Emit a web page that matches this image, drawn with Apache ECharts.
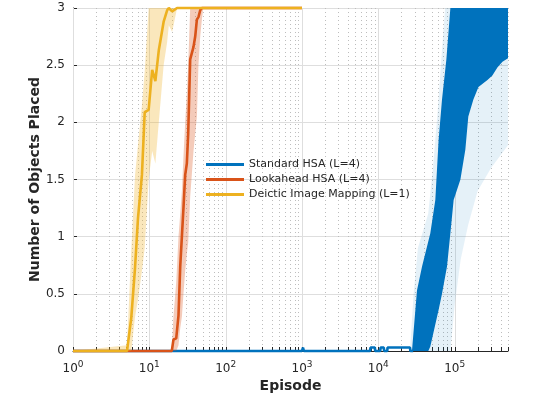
<!DOCTYPE html>
<html>
<head>
<meta charset="utf-8">
<script src="https://cdn.jsdelivr.net/npm/echarts@6/dist/echarts.min.js"></script>
<style>
  html, body { margin: 0; padding: 0; background: #fff; }
  #chart { width: 560px; height: 397px; }
</style>
</head>
<body>
<div id="chart"></div>
<script>
// x ticks (episode, log scale)
const majorTicks = [1, 10, 100, 1000, 10000, 100000]
const minorTicks = [2, 3, 4, 5, 6, 7, 8, 9,
  20, 30, 40, 50, 60, 70, 80, 90,
  200, 300, 400, 500, 600, 700, 800, 900,
  2000, 3000, 4000, 5000, 6000, 7000, 8000, 9000,
  20000, 30000, 40000, 50000, 60000, 70000, 80000, 90000,
  200000, 300000, 400000, 500000]

// Deictic Image Mapping (L=1)
const yellowX = [1, 5.1, 5.8, 6.5, 7.1, 8, 8.7, 9.8, 10.9, 12, 13.3, 15.4, 17.1, 18, 19.9, 23.1, 1000]
const yellowY = [0, 0, 0.29, 0.73, 1.16, 1.54, 2.09, 2.11, 2.46, 2.36, 2.63, 2.88, 2.98, 3, 2.97, 3, 3]
const yellowHi = [0, 0.05, 0.88, 1.54, 1.8, 2.15, 2.45, 3, 3, 3, 3, 3, 3, 3, 3, 3, 3]
const yellowLo = [0, 0, 0, 0.3, 0.45, 0.7, 0.9, 1.5, 1.75, 1.64, 2.0, 2.5, 2.7, 2.85, 2.79, 3, 3]

// Lookahead HSA (L=4)
const orangeX = [1, 19.7, 20.7, 22.5, 24.1, 25.4, 26.7, 28, 29.5, 31, 32.3, 34.3, 36.1, 37.9, 39.9, 42, 44, 46.4, 48.8, 51, 1000]
const orangeY = [0, 0, 0.10, 0.11, 0.31, 0.74, 0.74, 1.25, 1.54, 1.64, 1.9, 2.55, 2.56, 2.66, 2.75, 2.9, 2.92, 2.98, 3, 3, 3]
const orangeHi = [0, 0, 0.3, 0.6, 1.0, 1.2, 1.4, 1.7, 2.0, 2.25, 2.5, 3, 3, 3, 3, 3, 3, 3, 3, 3, 3]
const orangeLo = [0, 0, 0, 0, 0.05, 0.2, 0.3, 0.5, 0.7, 0.85, 0.95, 1.35, 1.55, 1.75, 1.9, 2.05, 2.5, 2.75, 2.9, 3, 3]

// Standard HSA (L=4): flat part, then the noisy band (edges)
const blueX = [1, 1000, 1030, 1060, 7800, 7900, 9000, 9100, 10600, 10700, 11800, 11900, 13100, 13200, 26000, 26300, 28600]
const blueY = [0, 0, 0.03, 0, 0, 0.03, 0.03, 0, 0, 0.03, 0.03, 0, 0, 0.03, 0.03, 0, 0]
const blueTopX = [27600, 32100, 37400, 48000, 55800, 61700, 68300, 77900, 87900, 500000]
const blueTopY = [0, 0.53, 0.74, 1.03, 1.32, 1.85, 2.2, 2.55, 3, 3]
const blueBotX = [45200, 48000, 61700, 68300, 79400, 87900, 97000, 119000, 138000, 151000, 176000, 205000, 269000, 312000, 363000, 423000, 500000]
const blueBotY = [0, 0.04, 0.36, 0.5, 0.74, 1.03, 1.32, 1.5, 1.76, 2.05, 2.2, 2.31, 2.37, 2.41, 2.48, 2.53, 2.56]
const blueShadeTopX = [26000, 29000, 33000, 45000, 52000, 60000, 66000, 75000, 500000]
const blueShadeTopY = [0, 0.5, 0.9, 1.2, 1.6, 2.1, 2.5, 3, 3]
const blueShadeBotX = [45000, 88000, 100000, 120000, 150000, 200000, 300000, 500000]
const blueShadeBotY = [0, 0, 0.4, 0.8, 1.1, 1.4, 1.6, 1.8]

const FONT = 'DejaVu Sans'
const INK = '#262626'

const pairs = (xs, ys) => xs.map((x, i) => [x, ys[i]])

function band (hiX, hiY, loX, loY, fill, z) {
  return {
    type: 'custom', silent: true, z,
    data: [[hiX[0], hiY[0]]],
    renderItem (params, api) {
      const top = hiX.map((x, i) => api.coord([x, hiY[i]]))
      const bot = loX.map((x, i) => api.coord([x, loY[i]])).reverse()
      return { type: 'polygon', shape: { points: top.concat(bot) }, style: { fill } }
    }
  }
}

function vGrid (ticks, color, dash, z) {
  return {
    type: 'custom', silent: true, z,
    data: ticks.map(v => [v, 0]),
    renderItem (params, api) {
      const a = api.coord([api.value(0), 0])
      const b = api.coord([api.value(0), 3])
      const x = Math.round(a[0]) + 0.5
      return {
        type: 'group',
        children: [
          { type: 'line', shape: { x1: x, y1: b[1], x2: x, y2: a[1] }, style: { stroke: color, lineWidth: 1, lineDash: dash } },
          { type: 'line', shape: { x1: x, y1: a[1], x2: x, y2: a[1] - 4 }, style: { stroke: INK, lineWidth: 1 } }
        ]
      }
    }
  }
}

function lineSeries (name, xs, ys, color, z) {
  return {
    name, type: 'line', z, clip: false,
    data: pairs(xs, ys),
    showSymbol: false, symbol: 'none',
    lineStyle: { color, width: 2.6 },
    itemStyle: { color }
  }
}

const chart = echarts.init(document.getElementById('chart'), null, { renderer: 'canvas' })
chart.setOption({
  animation: false,
  backgroundColor: '#fff',
  textStyle: { fontFamily: FONT },
  grid: { left: 73, top: 8, width: 435, height: 343, containLabel: false, outerBoundsMode: 'none' },
  legend: {
    orient: 'vertical', left: 201, top: 152,
    icon: 'rect', itemWidth: 38, itemHeight: 3, itemGap: 0,
    textStyle: { fontFamily: FONT, fontSize: 11, color: INK, lineHeight: 15 },
    data: ['Standard HSA (L=4)', 'Lookahead HSA (L=4)', 'Deictic Image Mapping (L=1)']
  },
  xAxis: {
    type: 'log', logBase: 10, min: 1, max: 500000,
    name: 'Episode', nameLocation: 'middle', nameGap: 28, nameMoveOverlap: false,
    nameTextStyle: { fontFamily: FONT, fontSize: 14, fontWeight: 'bold', color: INK },
    axisLine: { show: true, lineStyle: { color: INK, width: 1 } },
    axisTick: { show: false },
    splitLine: { show: false },
    axisLabel: {
      margin: 9, showMaxLabel: false,
      formatter: v => {
        const n = Math.round(Math.log10(v))
        if (Math.abs(Math.log10(v) - n) > 1e-6) return ''
        return '{b|10}{e|' + n + '}'
      },
      rich: {
        b: { fontFamily: FONT, fontSize: 12, color: INK },
        e: { fontFamily: FONT, fontSize: 9, color: INK, padding: [0, 0, 8, 0] }
      }
    }
  },
  yAxis: {
    type: 'value', min: 0, max: 3, interval: 0.5,
    name: 'Number of Objects Placed', nameLocation: 'middle', nameGap: 31, nameMoveOverlap: false,
    nameTextStyle: { fontFamily: FONT, fontSize: 14, fontWeight: 'bold', color: INK },
    axisLine: { show: true, lineStyle: { color: INK, width: 1 } },
    axisTick: { show: true, inside: true, length: 4, lineStyle: { color: INK } },
    splitLine: { show: true, lineStyle: { color: '#dedede', width: 1 } },
    axisLabel: { margin: 8, fontFamily: FONT, fontSize: 12, color: INK }
  },
  series: [
    vGrid(minorTicks, '#bdbdbd', [1, 3], 1),
    vGrid(majorTicks, '#dedede', null, 1),
    band(blueShadeTopX, blueShadeTopY, blueShadeBotX, blueShadeBotY, 'rgba(0,114,189,0.1)', 2),
    band(blueTopX, blueTopY, blueBotX, blueBotY, '#0072BD', 3),
    lineSeries('Standard HSA (L=4)', blueX, blueY, '#0072BD', 3),
    band(orangeX, orangeHi, orangeX, orangeLo, 'rgba(217,83,25,0.3)', 4),
    lineSeries('Lookahead HSA (L=4)', orangeX, orangeY, '#D95319', 5),
    band(yellowX, yellowHi, yellowX, yellowLo, 'rgba(237,177,32,0.3)', 6),
    lineSeries('Deictic Image Mapping (L=1)', yellowX, yellowY, '#EDB120', 7)
  ]
})
</script>
</body>
</html>
